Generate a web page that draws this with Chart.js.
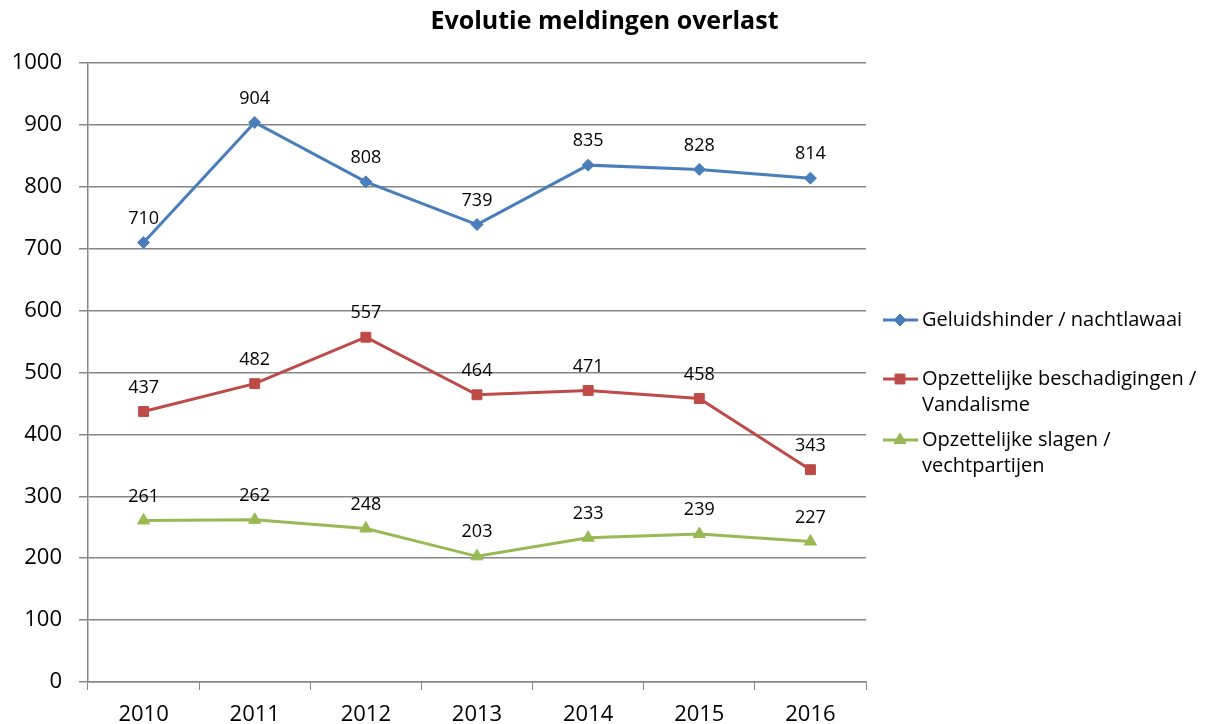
<!DOCTYPE html>
<html>
<head>
<meta charset="utf-8">
<script src="https://cdn.jsdelivr.net/npm/chart.js@4/dist/chart.umd.min.js"></script>
<style>
  html, body { margin: 0; padding: 0; background: #fff; }
  #wrap { width: 1209px; height: 724px; position: relative; }
</style>
</head>
<body>
<div id="wrap"><canvas id="chart" width="1209" height="724"></canvas></div>
<script>
// chart data
const years = ["2010", "2011", "2012", "2013", "2014", "2015", "2016"];
const geluidshinder = [710, 904, 808, 739, 835, 828, 814];
const vandalisme = [437, 482, 557, 464, 471, 458, 343];
const slagen = [261, 262, 248, 203, 233, 239, 227];
const seriesNames = [
  ["Geluidshinder / nachtlawaai"],
  ["Opzettelijke beschadigingen /", "Vandalisme"],
  ["Opzettelijke slagen /", "vechtpartijen"]
];
const yTicks = [0, 100, 200, 300, 400, 500, 600, 700, 800, 900, 1000];
const chartTitle = "Evolutie meldingen overlast";

const FONT = "'Open Sans', 'DejaVu Sans', sans-serif";
const gridGrey = "#868686";

// title centred over the whole picture (not just the plot)
const pageTitle = {
  id: "pageTitle",
  afterDraw(chart) {
    const ctx = chart.ctx;
    ctx.save();
    ctx.font = "bold 25px " + FONT;
    ctx.fillStyle = "#000";
    ctx.textAlign = "center";
    ctx.textBaseline = "middle";
    ctx.fillText(chartTitle, chart.width / 2, 22);
    ctx.restore();
  }
};

// value labels above every point
const pointLabels = {
  id: "pointLabels",
  afterDatasetsDraw(chart) {
    const ctx = chart.ctx;
    ctx.save();
    ctx.font = "18px " + FONT;
    ctx.fillStyle = "#000";
    ctx.textAlign = "center";
    ctx.textBaseline = "middle";
    chart.data.datasets.forEach((ds, i) => {
      chart.getDatasetMeta(i).data.forEach((pt, j) => {
        ctx.fillText(ds.data[j], pt.x, pt.y - 24);
      });
    });
    ctx.restore();
  }
};

// legend on the right, with wrapped names
const sideLegend = {
  id: "sideLegend",
  afterDraw(chart) {
    const ctx = chart.ctx;
    const rows = [320, 379, 440];
    ctx.save();
    chart.data.datasets.forEach((ds, i) => {
      const y = rows[i];
      ctx.strokeStyle = ds.borderColor;
      ctx.lineWidth = 3;
      ctx.beginPath();
      ctx.moveTo(883, y);
      ctx.lineTo(918, y);
      ctx.stroke();
      ctx.fillStyle = ds.backgroundColor;
      ctx.strokeStyle = ds.borderColor;
      ctx.lineWidth = 1;
      Chart.helpers.drawPoint(ctx, {
        pointStyle: ds.pointStyle,
        radius: ds.pointRadius,
        rotation: 0,
        borderWidth: 1
      }, 900, y);
      ctx.fillStyle = "#000";
      ctx.font = "20px " + FONT;
      ctx.textAlign = "left";
      ctx.textBaseline = "middle";
      seriesNames[i].forEach((line, k) => {
        ctx.fillText(line, 922, y + k * 26);
      });
    });
    ctx.restore();
  }
};

new Chart(document.getElementById("chart"), {
  type: "line",
  data: {
    labels: years,
    datasets: [
      {
        label: seriesNames[0].join(" "),
        data: geluidshinder,
        borderColor: "#4a7ebb",
        backgroundColor: "#4a7ebb",
        borderWidth: 3,
        pointStyle: "rectRot",
        pointRadius: 6,
        pointBorderWidth: 1
      },
      {
        label: seriesNames[1].join(" "),
        data: vandalisme,
        borderColor: "#be4b48",
        backgroundColor: "#be4b48",
        borderWidth: 3,
        pointStyle: "rect",
        pointRadius: 7,
        pointBorderWidth: 1
      },
      {
        label: seriesNames[2].join(" "),
        data: slagen,
        borderColor: "#98b954",
        backgroundColor: "#98b954",
        borderWidth: 3,
        pointStyle: "triangle",
        pointRadius: 7,
        pointBorderWidth: 1
      }
    ]
  },
  options: {
    responsive: false,
    animation: false,
    layout: { padding: { left: 0, right: 343, top: 63, bottom: 0 } },
    plugins: {
      legend: { display: false },
      tooltip: { enabled: false },
      title: { display: false }
    },
    scales: {
      x: {
        offset: true,
        grid: {
          offset: true,
          drawOnChartArea: false,
          drawTicks: true,
          tickLength: 8,
          color: gridGrey
        },
        border: { color: gridGrey, width: 1.5 },
        ticks: {
          color: "#000",
          padding: 12,
          font: { family: FONT, size: 22 }
        },
        afterFit(scale) { scale.height = 42; }
      },
      y: {
        min: 0,
        max: 1000,
        afterBuildTicks(scale) { scale.ticks = yTicks.map(v => ({ value: v })); },
        grid: { color: gridGrey, lineWidth: 1.5, tickLength: 9 },
        border: { color: gridGrey, width: 1.5 },
        ticks: {
          color: "#000",
          padding: 17,
          font: { family: FONT, size: 22 },
          callback: (v) => String(v)
        },
        afterFit(scale) { scale.width = 88; }
      }
    }
  },
  plugins: [pageTitle, pointLabels, sideLegend]
});
</script>
</body>
</html>
